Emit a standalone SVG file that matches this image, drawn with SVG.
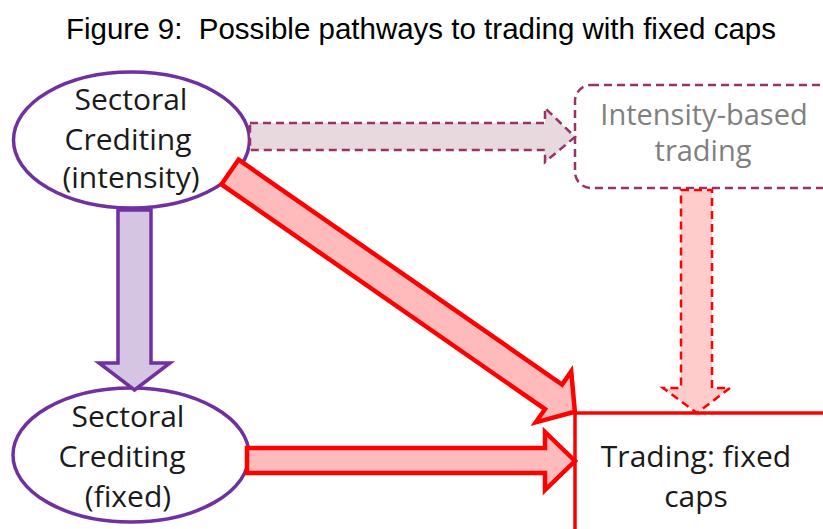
<svg xmlns="http://www.w3.org/2000/svg" width="823" height="529" viewBox="0 0 823 529">
<style>
.title{font-family:"Liberation Sans",Arial,sans-serif;font-size:29.5px;fill:#000;white-space:pre}
.lbl{font-family:"Open Sans","Noto Sans",sans-serif;font-size:30px;fill:#1a1a1a;text-anchor:middle}
.grey{fill:#808080;font-size:29px}
.ell{fill:#fff;stroke:#7030A0;stroke-width:3.5}
.purple{fill:#D5C5E3;stroke:#7030A0;stroke-width:3.5;stroke-linejoin:miter}
.red{fill:#FFBBBB;stroke:#FF0000;stroke-width:4.5;stroke-linejoin:miter}
.mauve{fill:#E8D9DF;stroke:#993366;stroke-width:2.5;stroke-dasharray:8 5}
.reddash{fill:#FFCCCC;stroke:#FF0000;stroke-width:2.5;stroke-dasharray:8 5}
</style>
<rect width="823" height="529" fill="#fff"/>
<text class="title" x="421" y="39" text-anchor="middle" xml:space="preserve">Figure 9:  Possible pathways to trading with fixed caps</text>

<g id="node-trading-fixed">
<path d="M575,529 V413 H823" fill="none" stroke="#FF0000" stroke-width="3.5"/>
<text class="lbl" x="696" y="467">Trading: fixed</text>
<text class="lbl" x="696" y="507">caps</text>
</g>

<g id="node-intensity-trading">
<rect x="575" y="85" width="270" height="103" rx="16" ry="16" fill="#fff" stroke="#993366" stroke-width="2.5" stroke-dasharray="8 5"/>
<text class="lbl grey" x="704" y="125">Intensity-based</text>
<text class="lbl grey" x="703" y="161">trading</text>
</g>

<g id="node-sc-intensity">
<ellipse class="ell" cx="131.5" cy="140" rx="118" ry="68"/>
<text class="lbl" x="131" y="110">Sectoral</text>
<text class="lbl" x="128" y="150">Crediting</text>
<text class="lbl" x="131" y="188">(intensity)</text>
</g>

<g id="node-sc-fixed">
<ellipse class="ell" cx="131" cy="455" rx="118" ry="67"/>
<text class="lbl" x="128" y="427">Sectoral</text>
<text class="lbl" x="122" y="467">Crediting</text>
<text class="lbl" x="128" y="507">(fixed)</text>
</g>

<g id="connectors">
<polygon class="mauve" points="250,123 545,123 545,108 575,137 545,162 545,150 250,150"/>
<polygon class="purple" points="118,210 151,210 151,363 170,363 134.5,390 99,363 118,363"/>
<polygon class="red" points="0,-15 394,-15 394,-31 420,0 394,31 394,15 0,15" transform="translate(230,172) rotate(34.8)"/>
<polygon class="red" points="247,448 545,448 545,432 575,461 545,490 545,473 247,473"/>
<polygon class="reddash" points="681,190 712,190 712,388 730,388 697,413 663,388 681,388"/>
</g>
</svg>
